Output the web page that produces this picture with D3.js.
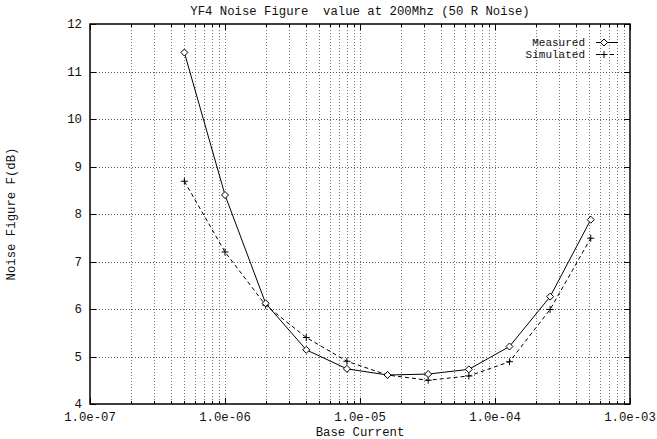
<!DOCTYPE html>
<html>
<head>
<meta charset="utf-8">
<script src="https://cdn.jsdelivr.net/npm/d3@7"></script>
<style>
  body { margin: 0; background: #fff; }
  text { font-family: "Liberation Mono", "DejaVu Sans Mono", monospace; font-size: 12.3px; fill: #111; white-space: pre; }
</style>
</head>
<body>
<div id="chart"></div>
<script>
var current = [5e-7, 1e-6, 2e-6, 4e-6, 8e-6, 1.6e-5, 3.2e-5, 6.4e-5, 1.28e-4, 2.56e-4, 5.12e-4]
var measured = [11.4, 8.4, 6.12, 5.14, 4.74, 4.61, 4.63, 4.73, 5.21, 6.26, 7.88]
var simulated = [8.69, 7.2, 6.08, 5.4, 4.9, 4.61, 4.5, 4.59, 4.89, 5.99, 7.49]
var xTickLabels = ['1.0e-07', '1.0e-06', '1.0e-05', '1.0e-04', '1.0e-03']
var xTickValues = [1e-7, 1e-6, 1e-5, 1e-4, 1e-3]
var yTickValues = [4, 5, 6, 7, 8, 9, 10, 11, 12]

function drawChart() {

    var width = 657, height = 439
    var mLeft = 90, mRight = 630, mTop = 24, mBottom = 404

    var svg = d3.select('#chart').append('svg')
        .attr('width', width)
        .attr('height', height)

    var x = d3.scaleLog().domain([1e-7, 1e-3]).range([mLeft, mRight])
    var y = d3.scaleLinear().domain([4, 12]).range([mBottom, mTop])

    // minor ticks for each decade
    var minor = []
    for (var e = -7; e < -3; e++) {
        for (var m = 2; m <= 9; m++) minor.push(m * Math.pow(10, e))
    }

    var grid = svg.append('g')
    grid.selectAll('.vx')
        .data(minor.concat(xTickValues.slice(1, -1)))
        .enter().append('line')
        .attr('x1', function(d) { return Math.round(x(d)) + 0.5 })
        .attr('x2', function(d) { return Math.round(x(d)) + 0.5 })
        .attr('y1', mTop).attr('y2', mBottom)
        .attr('stroke', '#777')
        .attr('stroke-width', 1)
        .attr('stroke-dasharray', '1,2')

    grid.selectAll('.hy')
        .data(yTickValues.slice(1, -1))
        .enter().append('line')
        .attr('x1', mLeft).attr('x2', mRight)
        .attr('y1', function(d) { return Math.round(y(d)) + 0.5 })
        .attr('y2', function(d) { return Math.round(y(d)) + 0.5 })
        .attr('stroke', '#555')
        .attr('stroke-width', 1)
        .attr('stroke-dasharray', '1,2')

    // tick marks, mirrored on both sides
    var ticks = svg.append('g').attr('stroke', '#000').attr('stroke-width', 1)
    yTickValues.forEach(function(d) {
        var yy = Math.round(y(d)) + 0.5
        ticks.append('line').attr('x1', mLeft).attr('x2', mLeft + 6).attr('y1', yy).attr('y2', yy)
        ticks.append('line').attr('x1', mRight - 6).attr('x2', mRight).attr('y1', yy).attr('y2', yy)
    })
    xTickValues.forEach(function(d) {
        var xx = Math.round(x(d)) + 0.5
        ticks.append('line').attr('x1', xx).attr('x2', xx).attr('y1', mBottom).attr('y2', mBottom - 6)
        ticks.append('line').attr('x1', xx).attr('x2', xx).attr('y1', mTop).attr('y2', mTop + 6)
    })
    minor.forEach(function(d) {
        var xx = Math.round(x(d)) + 0.5
        ticks.append('line').attr('x1', xx).attr('x2', xx).attr('y1', mBottom).attr('y2', mBottom - 3)
        ticks.append('line').attr('x1', xx).attr('x2', xx).attr('y1', mTop).attr('y2', mTop + 3)
    })

    svg.append('rect')
        .attr('x', mLeft).attr('y', mTop)
        .attr('width', mRight - mLeft).attr('height', mBottom - mTop)
        .attr('fill', 'none')
        .attr('stroke', '#000')
        .attr('stroke-width', 1.5)

    // tick labels
    svg.selectAll('.ylab')
        .data(yTickValues)
        .enter().append('text')
        .attr('x', mLeft - 8)
        .attr('y', function(d) { return y(d) + 4 })
        .attr('text-anchor', 'end')
        .text(function(d) { return d })

    svg.selectAll('.xlab')
        .data(xTickValues)
        .enter().append('text')
        .attr('x', function(d) { return x(d) })
        .attr('y', 421)
        .attr('text-anchor', 'middle')
        .text(function(d, i) { return xTickLabels[i] })

    svg.append('text')
        .attr('x', 360).attr('y', 15)
        .attr('text-anchor', 'middle')
        .text('YF4 Noise Figure  value at 200Mhz (50 R Noise)')

    svg.append('text')
        .attr('x', 360).attr('y', 436)
        .attr('text-anchor', 'middle')
        .text('Base Current')

    svg.append('text')
        .attr('transform', 'translate(15,' + ((mTop + mBottom) / 2) + ') rotate(-90)')
        .attr('text-anchor', 'middle')
        .text('Noise Figure F(dB)')

    // series
    var line = function(vals) {
        return d3.line()
            .x(function(d, i) { return x(current[i]) })
            .y(function(d) { return y(d) })(vals)
    }

    svg.append('path')
        .attr('d', line(simulated))
        .attr('fill', 'none')
        .attr('stroke', '#000')
        .attr('stroke-width', 1)
        .attr('stroke-dasharray', '4,3')

    svg.append('path')
        .attr('d', line(measured))
        .attr('fill', 'none')
        .attr('stroke', '#000')
        .attr('stroke-width', 1)

    function diamond(g, cx, cy) {
        g.append('path')
            .attr('d', 'M' + cx + ',' + (cy - 3.5) + 'L' + (cx + 3.5) + ',' + cy + 'L' + cx + ',' + (cy + 3.5) + 'L' + (cx - 3.5) + ',' + cy + 'Z')
            .attr('fill', '#fff')
            .attr('stroke', '#000')
            .attr('stroke-width', 1)
    }
    function plus(g, cx, cy) {
        g.append('path')
            .attr('d', 'M' + (cx - 3.5) + ',' + cy + 'H' + (cx + 3.5) + 'M' + cx + ',' + (cy - 3.5) + 'V' + (cy + 3.5))
            .attr('stroke', '#000')
            .attr('stroke-width', 1)
    }

    var marks = svg.append('g')
    simulated.forEach(function(d, i) { plus(marks, x(current[i]), y(d)) })
    measured.forEach(function(d, i) { diamond(marks, x(current[i]), y(d)) })

    // legend
    var leg = svg.append('g')
    leg.append('text').attr('x', 585).attr('y', 45.5).attr('text-anchor', 'end').style('font-size', '11px').text('Measured')
    leg.append('line').attr('x1', 596).attr('x2', 618).attr('y1', 42.5).attr('y2', 42.5).attr('stroke', '#000')
    diamond(leg, 604, 42.5)
    leg.append('text').attr('x', 585).attr('y', 57.5).attr('text-anchor', 'end').style('font-size', '11px').text('Simulated')
    leg.append('line').attr('x1', 596).attr('x2', 618).attr('y1', 54.5).attr('y2', 54.5).attr('stroke', '#000').attr('stroke-dasharray', '4,3')
    plus(leg, 604, 54.5)
}

drawChart()
</script>
</body>
</html>
